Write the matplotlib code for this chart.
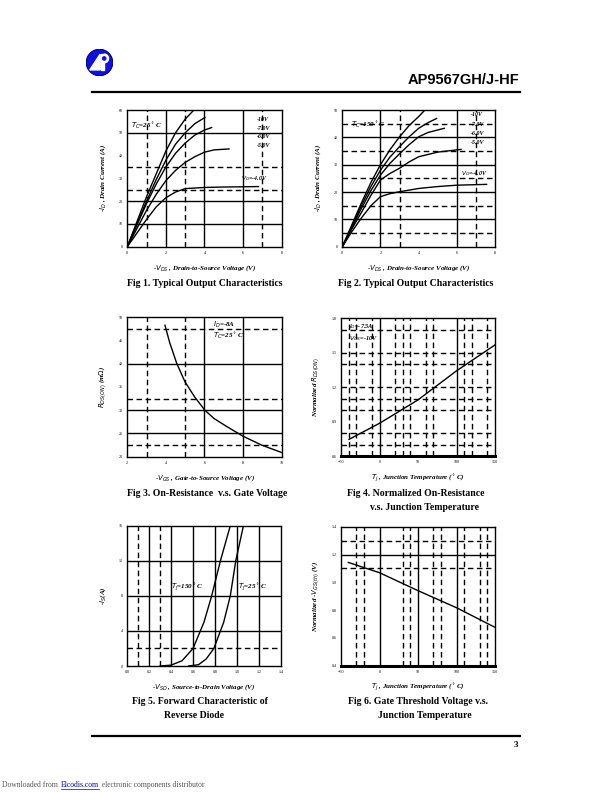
import numpy as np
import matplotlib.pyplot as plt
from matplotlib.patches import Circle, Polygon, Wedge

plt.rcParams['font.family'] = ['Liberation Serif', 'DejaVu Serif']

W, H = 612, 792

# Fig 1, Tc = 25C
f1_vds_10 = [0, 0.5, 1, 1.5, 2, 2.5, 3, 3.45]
f1_id_10 = [0, 11, 22, 32, 42, 50, 56, 60]
f1_vds_7 = [0, 0.5, 1, 1.5, 2, 2.5, 3, 3.5, 4.02]
f1_id_7 = [0, 10, 20, 29.5, 38, 45, 50, 54, 56.7]
f1_vds_6 = [0, 0.5, 1, 1.5, 2, 2.5, 3, 3.5, 4.0, 4.37]
f1_id_6 = [0, 9.5, 19, 27.5, 35, 41, 45.5, 49, 51.2, 52.3]
f1_vds_5 = [0, 0.5, 1, 1.5, 2, 2.5, 3, 3.5, 4, 4.5, 5.27]
f1_id_5 = [0, 8, 16, 23, 29, 33.5, 37, 39.5, 41.5, 42.5, 42.9]
f1_vds_4 = [0, 0.5, 1, 1.5, 2, 2.5, 3, 4, 5, 6, 6.8]
f1_id_4 = [0, 6, 12, 17.5, 21.5, 24, 25.5, 26, 26.2, 26.3, 26.4]

# Fig 2, Tc = 150C
f2_vds_10 = [0, 0.5, 1, 1.5, 2, 2.5, 3, 3.5, 4, 4.33]
f2_id_10 = [0, 8, 16, 23.5, 30, 35.5, 40.2, 44.3, 47.6, 50]
f2_vds_7 = [0, 0.5, 1, 1.5, 2, 2.5, 3, 3.5, 4, 4.5, 4.94]
f2_id_7 = [0, 7.5, 15, 22, 28, 32.8, 36.6, 40.2, 43.3, 45.4, 46.9]
f2_vds_6 = [0, 0.5, 1, 1.5, 2, 2.5, 3, 3.5, 4, 4.5, 5.34]
f2_id_6 = [0, 7, 14, 20.5, 26.2, 30.5, 34, 37.3, 40.2, 41.8, 43.3]
f2_vds_5 = [0, 0.5, 1, 1.5, 2, 2.5, 3, 3.5, 4, 5, 6.22]
f2_id_5 = [0, 6.5, 12.5, 18.8, 24.4, 26.8, 28.7, 31, 32.9, 34.6, 35.6]
f2_vds_4 = [0, 0.5, 1, 1.5, 2, 2.5, 3, 4, 5, 6, 7.56]
f2_id_4 = [0, 5.5, 10.5, 15, 18.3, 19.4, 20.1, 21.3, 22.0, 22.5, 22.8]

# Fig 3, Id = -8A, Tc = 25C
f3_vgs = [3.95, 4.2, 4.56, 4.99, 5.5, 6.02, 6.5, 7.15, 8.0, 8.96, 10]
f3_rds = [48.3, 44.5, 40.1, 36.1, 32.8, 30.0, 28.2, 26.5, 24.4, 22.5, 20.9]

# Fig 4, normalized Rds(on) vs Tj
f4_tj = [-39.6, 0, 50, 100, 150]
f4_rn = [0.745, 0.885, 1.089, 1.342, 1.568]

# Fig 5, forward characteristic of reverse diode
f5_vsd_150 = [0.30, 0.40, 0.50, 0.60, 0.70, 0.77, 0.85, 0.94]
f5_is_150 = [0, 0.1, 0.6, 2.0, 5.0, 8.0, 12.0, 16.0]
f5_vsd_25 = [0.56, 0.65, 0.72, 0.79, 0.88, 0.94, 0.99, 1.06]
f5_is_25 = [0, 0.15, 0.8, 2.0, 5.0, 8.0, 12.0, 16.0]

# Fig 6, normalized Vgs(th) vs Tj
f6_tj = [-40.5, 0, 50, 100, 150]
f6_vth = [1.143, 1.069, 0.94, 0.817, 0.676]

DASH = (0, (4, 2.5))


def px_axes(l, r, t, b):
    return fig.add_axes([l / W, 1 - b / H, (r - l) / W, (b - t) / H])


def grid(ax, vsol, vdash, hsol, hdash):
    for v in vsol:
        ax.axvline(v, color='k', lw=1.0)
    for v in vdash:
        ax.axvline(v, color='k', lw=1.0, ls=DASH)
    for h in hsol:
        ax.axhline(h, color='k', lw=1.0)
    for h in hdash:
        ax.axhline(h, color='k', lw=1.0, ls=DASH)


def style(ax, xlab, ylab, thick_bottom=False):
    ax.tick_params(labelsize=3, length=0, pad=3)
    for s in ax.spines.values():
        s.set_linewidth(1.0)
    if thick_bottom:
        ax.spines['bottom'].set_linewidth(2.2)
    ax.set_xlabel(xlab, fontsize=5, fontstyle='italic', fontweight='bold', labelpad=6)
    ax.set_ylabel(ylab, fontsize=5, fontstyle='italic', fontweight='bold', labelpad=8)


def txt(ax, x, y, s, size=5):
    ax.text(x, y, s, fontsize=size, fontstyle='italic', fontweight='bold', va='center')


fig = plt.figure(figsize=(W / 100, H / 100), dpi=100)

# ---- header ----
lax = fig.add_axes([86 / W, 1 - 76 / H, 27 / W, 27 / H])
lax.set_xlim(-1, 1)
lax.set_ylim(-1, 1)
lax.set_aspect('equal')
lax.axis('off')
lax.add_patch(Circle((0, 0), 0.98, color='#1010e0', ec='#000080', lw=0.8))
lax.add_patch(Polygon([(-0.72, -0.55), (0.05, 0.62), (0.05, -0.55)], color='white'))
lax.add_patch(Polygon([(0.12, -0.55), (0.12, 0.62), (0.35, 0.62), (0.35, -0.55)], color='white'))
lax.add_patch(Wedge((0.35, 0.3), 0.32, -90, 90, color='white'))
lax.add_patch(Circle((0.35, 0.3), 0.12, color='#1010e0'))

fig.text(519 / W, 1 - 80 / H, 'AP9567GH/J-HF', ha='right', va='center',
         fontsize=10.5, fontweight='bold', family='Liberation Sans')
fig.add_artist(plt.Line2D([92 / W, 520 / W], [1 - 92 / H, 1 - 92 / H], color='k', lw=1.6))
fig.add_artist(plt.Line2D([92 / W, 520 / W], [1 - 736 / H, 1 - 736 / H], color='k', lw=1.6))
fig.text(518 / W, 1 - 745 / H, '3', ha='right', va='center', fontsize=6.5, fontweight='bold')

# footer, laid out piece by piece
rend = fig.canvas.get_renderer()
xpos = 2
for part, col in [('Downloaded from ', '#555555'), ('Elcodis.com', '#0000cc'),
                  (' electronic components distributor', '#555555')]:
    t = fig.text(xpos / W, 1 - 785 / H, part, ha='left', va='center', fontsize=5.5, color=col)
    bb = t.get_window_extent(rend)
    if col == '#0000cc':
        fig.add_artist(plt.Line2D([xpos / W, (xpos + bb.width) / W], [1 - 788.5 / H, 1 - 788.5 / H],
                                  color=col, lw=0.5))
    xpos += bb.width + 1

# ---- Fig 1 ----
ax1 = px_axes(127.3, 281.7, 110, 246.7)
grid(ax1, [2, 4, 6], [1, 3, 7], [10, 20, 50], [25, 35])
for xs, ys in [(f1_vds_10, f1_id_10), (f1_vds_7, f1_id_7), (f1_vds_6, f1_id_6),
               (f1_vds_5, f1_id_5), (f1_vds_4, f1_id_4)]:
    ax1.plot(xs, ys, color='k', lw=1.0)
ax1.set_xlim(0, 8)
ax1.set_ylim(0, 60)
ax1.set_xticks([0, 2, 4, 6, 8])
ax1.set_yticks([0, 10, 20, 30, 40, 50, 60])
txt(ax1, 0.2, 53, r'$T_C$=25$^\circ$C')
txt(ax1, 6.7, 55.8, '-10V', 4.2)
txt(ax1, 6.7, 52, '-7.0V', 4.2)
txt(ax1, 6.7, 48.2, '-6.0V', 4.2)
txt(ax1, 6.7, 44.4, '-5.0V', 4.2)
txt(ax1, 5.9, 30, r'$V_G$=-4.0V', 4.2)
style(ax1, r'-$V_{DS}$ , Drain-to-Source Voltage (V)', r'-$I_D$ , Drain Current (A)')

# ---- Fig 2 ----
ax2 = px_axes(342.3, 495, 110, 246.7)
grid(ax2, [2, 6], [3, 7], [10, 20, 30, 40], [5, 15, 25, 35, 45])
for xs, ys in [(f2_vds_10, f2_id_10), (f2_vds_7, f2_id_7), (f2_vds_6, f2_id_6),
               (f2_vds_5, f2_id_5), (f2_vds_4, f2_id_4)]:
    ax2.plot(xs, ys, color='k', lw=1.0)
ax2.set_xlim(0, 8)
ax2.set_ylim(0, 50)
ax2.set_xticks([0, 2, 4, 6, 8])
ax2.set_yticks([0, 10, 20, 30, 40, 50])
txt(ax2, 0.45, 44.5, r'$T_C$=150$^\circ$C')
txt(ax2, 6.75, 48.2, '-10V', 4.2)
txt(ax2, 6.75, 44.8, '-7.0V', 4.2)
txt(ax2, 6.75, 41.5, '-6.0V', 4.2)
txt(ax2, 6.75, 38.1, '-5.0V', 4.2)
txt(ax2, 6.2, 26.6, r'$V_G$=-4.0V', 4.2)
style(ax2, r'-$V_{DS}$ , Drain-to-Source Voltage (V)', r'-$I_D$ , Drain Current (A)')

# ---- Fig 3 ----
ax3 = px_axes(127.3, 281.7, 317.3, 456.7)
grid(ax3, [6, 8], [3, 5], [40, 30, 25], [47.5, 32.5, 22.5])
ax3.plot(f3_vgs, f3_rds, color='k', lw=1.0)
ax3.set_xlim(2, 10)
ax3.set_ylim(20, 50)
ax3.set_xticks([2, 4, 6, 8, 10])
ax3.set_yticks([20, 25, 30, 35, 40, 45, 50])
txt(ax3, 6.45, 48.3, r'$I_D$=-8A')
txt(ax3, 6.45, 46.0, r'$T_C$=25$^\circ$C')
style(ax3, r'-$V_{GS}$ , Gate-to-Source Voltage (V)', r'$R_{DS(ON)}$ (m$\Omega$)')

# ---- Fig 4 ----
ax4 = px_axes(341, 495, 318.3, 456)
grid(ax4, [0, 100], [-40, -30, -10, 20, 30, 40, 60, 70, 110, 120, 140],
     [], [0.7, 0.8, 1.0, 1.1, 1.2, 1.4, 1.5, 1.7])
ax4.plot(f4_tj, f4_rn, color='k', lw=1.0)
ax4.set_xlim(-50, 150)
ax4.set_ylim(0.6, 1.8)
ax4.set_xticks([-50, 0, 50, 100, 150])
ax4.set_yticks([0.6, 0.9, 1.2, 1.5, 1.8])
txt(ax4, -40, 1.73, r'$I_D$=-7.5A', 4.5)
txt(ax4, -40, 1.62, r'$V_{GS}$=-10V', 4.5)
style(ax4, r'$T_j$ , Junction Temperature ($^\circ$C)', r'Normalized $R_{DS(ON)}$', True)

# ---- Fig 5 ----
ax5 = px_axes(127.3, 280.7, 525.7, 666)
grid(ax5, [0.2, 0.4, 0.6, 0.8, 1.0, 1.2], [0.1, 0.3], [4, 8, 12], [2])
ax5.plot(f5_vsd_150, f5_is_150, color='k', lw=1.0)
ax5.plot(f5_vsd_25, f5_is_25, color='k', lw=1.0)
ax5.set_xlim(0, 1.4)
ax5.set_ylim(0, 16)
ax5.set_xticks([0, 0.2, 0.4, 0.6, 0.8, 1.0, 1.2, 1.4])
ax5.set_yticks([0, 4, 8, 12, 16])
txt(ax5, 0.4, 8.9, r'$T_j$=150$^\circ$C')
txt(ax5, 1.01, 8.9, r'$T_j$=25$^\circ$C')
style(ax5, r'-$V_{SD}$ , Source-to-Drain Voltage (V)', r'-$I_S$(A)')

# ---- Fig 6 ----
ax6 = px_axes(341, 495, 526.7, 665.7)
grid(ax6, [0, 50, 100], [-30, -20, 30, 40, 70, 80, 110, 130, 140], [1.2], [1.1, 1.3])
ax6.plot(f6_tj, f6_vth, color='k', lw=1.0)
ax6.set_xlim(-50, 150)
ax6.set_ylim(0.4, 1.4)
ax6.set_xticks([-50, 0, 50, 100, 150])
ax6.set_yticks([0.4, 0.6, 0.8, 1.0, 1.2, 1.4])
style(ax6, r'$T_j$ , Junction Temperature ($^\circ$C)', r'Normalized -$V_{GS(th)}$ (V)', True)

# ---- captions ----
caps = [(205, 284, 'Fig 1. Typical Output Characteristics'),
        (416, 284, 'Fig 2. Typical Output Characteristics'),
        (207, 493, 'Fig 3. On-Resistance  v.s. Gate Voltage'),
        (416, 493, 'Fig 4. Normalized On-Resistance'),
        (425, 507, 'v.s. Junction Temperature'),
        (200, 702, 'Fig 5. Forward Characteristic of'),
        (194, 716, 'Reverse Diode'),
        (418, 702, 'Fig 6. Gate Threshold Voltage v.s.'),
        (425, 716, 'Junction Temperature')]
for x, y, s in caps:
    fig.text(x / W, 1 - y / H, s, ha='center', va='center', fontsize=7, fontweight='bold')

fig.savefig('out.png', dpi=100)
